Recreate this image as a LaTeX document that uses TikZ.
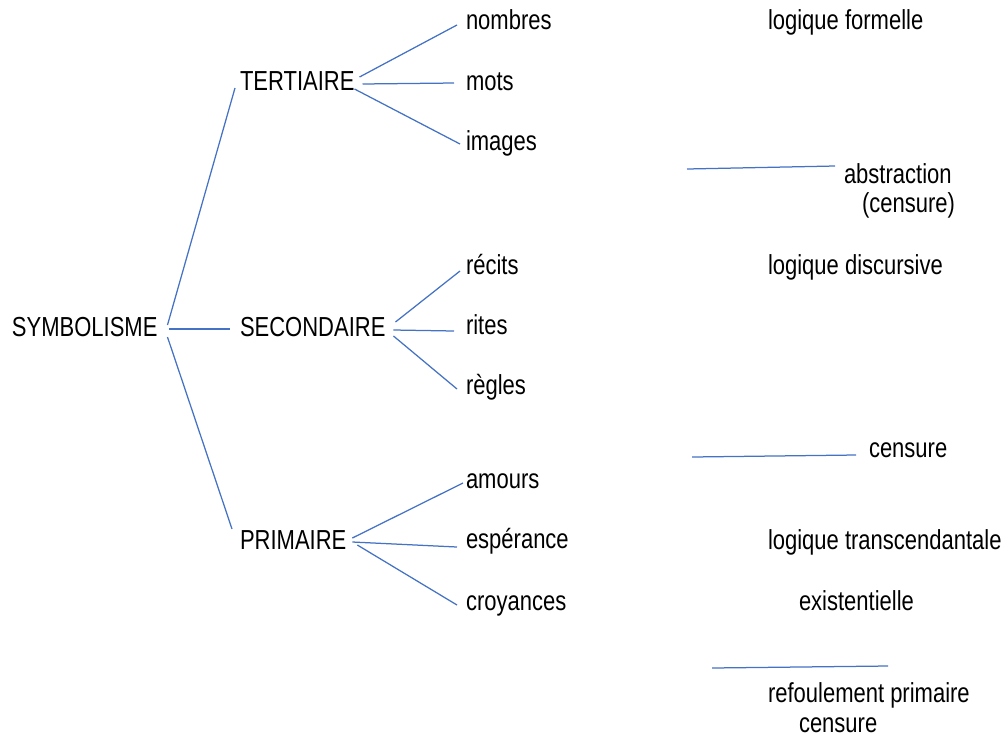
\documentclass[tikz,border=0pt]{standalone}
\usepackage{fontspec}
\usepackage{graphicx}
\setmainfont{Liberation Sans}
\newcommand{\tallt}[1]{\scalebox{1}[1.25]{#1}}
\definecolor{linkblue}{RGB}{68,114,196}
\tikzset{
  lbl/.style={inner sep=0pt, outer sep=0pt, anchor=base west, font=\fontsize{22}{26}\selectfont, text=black},
  link/.style={draw=linkblue, line width=1.25pt}
}
\begin{document}
\begin{tikzpicture}[x=1pt,y=-1pt]
\useasboundingbox (0,0) rectangle (1007,740);
% level 0
\node[lbl] (sym) at (12,336) {\tallt{SYMBOLISME}};
% level 1
\node[lbl] (ter) at (240,90) {\tallt{TERTIAIRE}};
\node[lbl] (sec) at (240,336) {\tallt{SECONDAIRE}};
\node[lbl] (pri) at (240,549) {\tallt{PRIMAIRE}};
% level 2
\node[lbl] (nom) at (466,29) {\tallt{nombres}};
\node[lbl] (mot) at (466,90) {\tallt{mots}};
\node[lbl] (ima) at (466,150) {\tallt{images}};
\node[lbl] (rec) at (466,274) {\tallt{récits}};
\node[lbl] (rit) at (466,334) {\tallt{rites}};
\node[lbl] (reg) at (466,394) {\tallt{règles}};
\node[lbl] (amo) at (466,488) {\tallt{amours}};
\node[lbl] (esp) at (466,548) {\tallt{espérance}};
\node[lbl] (cro) at (466,610) {\tallt{croyances}};
% right column
\node[lbl] (lfo) at (768,29) {\tallt{logique formelle}};
\node[lbl] (abs) at (844,183) {\tallt{abstraction}};
\node[lbl] (ce1) at (862,212) {\tallt{(censure)}};
\node[lbl] (ldi) at (768,274) {\tallt{logique discursive}};
\node[lbl] (ce2) at (869,457) {\tallt{censure}};
\node[lbl] (ltr) at (768,549) {\tallt{logique transcendantale}};
\node[lbl] (exi) at (799,610) {\tallt{existentielle}};
\node[lbl] (ref) at (768,702) {\tallt{refoulement primaire}};
\node[lbl] (ce3) at (799,732) {\tallt{censure}};
% connectors level 0 -> 1
\draw[link] ([shift={(10,-11)}]sym.base east) -- ([shift={(-5,-2)}]ter.base west);
\draw[link] ([shift={(12,-7)}]sym.base east) -- ([shift={(-10,-7)}]sec.base west);
\draw[link] ([shift={(10,1)}]sym.base east) -- ([shift={(-8,-20)}]pri.base west);
% TERTIAIRE
\draw[link] ([shift={(5,-13)}]ter.base east) -- ([shift={(-9,-4)}]nom.base west);
\draw[link] ([shift={(8,-6)}]ter.base east) -- ([shift={(-12,-7)}]mot.base west);
\draw[link] ([shift={(0,-1)}]ter.base east) -- ([shift={(-6,-6)}]ima.base west);
% SECONDAIRE
\draw[link] ([shift={(10,-14)}]sec.base east) -- ([shift={(-6,-3)}]rec.base west);
\draw[link] ([shift={(8,-6)}]sec.base east) -- ([shift={(-12,-3)}]rit.base west);
\draw[link] ([shift={(8,0)}]sec.base east) -- ([shift={(-9,-5)}]reg.base west);
% PRIMAIRE
\draw[link] ([shift={(6,-11)}]pri.base east) -- ([shift={(-3,-5)}]amo.base west);
\draw[link] ([shift={(6,-7)}]pri.base east) -- ([shift={(-9,-1)}]esp.base west);
\draw[link] ([shift={(11,-4)}]pri.base east) -- ([shift={(-9,-5)}]cro.base west);
% free-standing lines on the right
\coordinate (r1a) at (687,169); \coordinate (r1b) at (835,166);
\coordinate (r2a) at (692,457); \coordinate (r2b) at (856,455);
\coordinate (r3a) at (712,668); \coordinate (r3b) at (888,666);
\draw[link] (r1a) -- (r1b);
\draw[link] (r2a) -- (r2b);
\draw[link] (r3a) -- (r3b);
\end{tikzpicture}
\end{document}
